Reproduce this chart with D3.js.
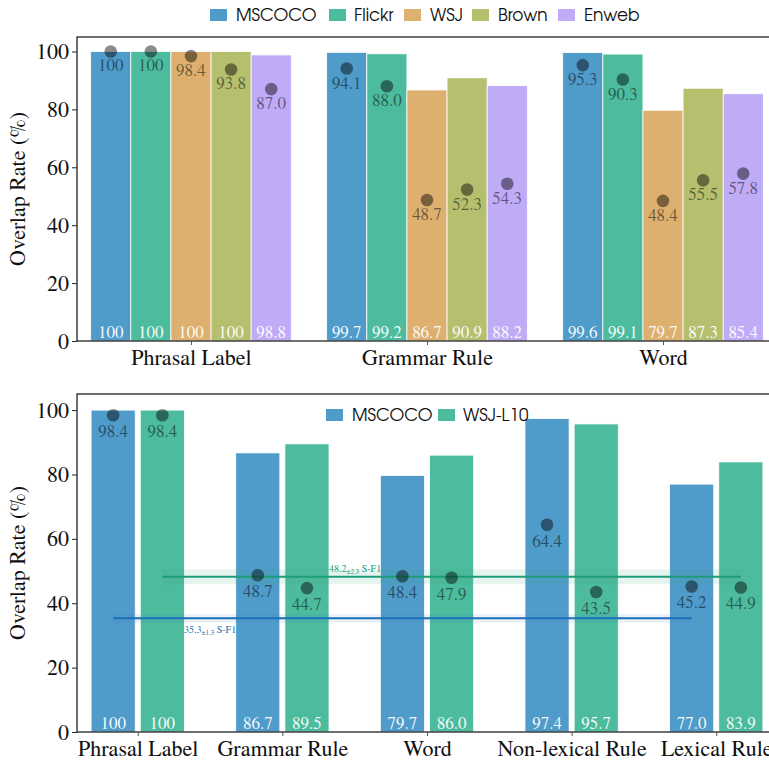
<!DOCTYPE html>
<html>
<head>
<meta charset="utf-8">
<script src="https://cdn.jsdelivr.net/npm/d3@7"></script>
</head>
<body style="margin:0;background:#fff">
<svg id="chart" width="769" height="762" style="display:block"></svg>
<script>
// ---------------- data ----------------
const topCategories = ["Phrasal Label", "Grammar Rule", "Word"];
const topSeries = ["MSCOCO", "Flickr", "WSJ", "Brown", "Enweb"];
const topBars = {
  MSCOCO: [100, 99.7, 99.6],
  Flickr: [100, 99.2, 99.1],
  WSJ:    [100, 86.7, 79.7],
  Brown:  [100, 90.9, 87.3],
  Enweb:  [98.8, 88.2, 85.4]
};
const topDots = {
  MSCOCO: [100, 94.1, 95.3],
  Flickr: [100, 88.0, 90.3],
  WSJ:    [98.4, 48.7, 48.4],
  Brown:  [93.8, 52.3, 55.5],
  Enweb:  [87.0, 54.3, 57.8]
};

const botCategories = ["Phrasal Label", "Grammar Rule", "Word", "Non-lexical Rule", "Lexical Rule"];
const botSeries = ["MSCOCO", "WSJ-L10"];
const botBars = {
  "MSCOCO":  [100, 86.7, 79.7, 97.4, 77.0],
  "WSJ-L10": [100, 89.5, 86.0, 95.7, 83.9]
};
const botDots = {
  "MSCOCO":  [98.4, 48.7, 48.4, 64.4, 45.2],
  "WSJ-L10": [98.4, 44.7, 47.9, 43.5, 44.9]
};
const refSeries = ["WSJ-L10", "MSCOCO"];
const refMeans = [48.2, 35.3];
const refStds = [2.3, 1.3];
const refLabel = "S-F1";

const yTicks = [0, 20, 40, 60, 80, 100];

// ---------------- style ----------------
const colors = {
  "MSCOCO": "#4f9bca",
  "Flickr": "#4dbb9e",
  "WSJ": "#ddb06f",
  "Brown": "#b5bf6e",
  "Enweb": "#bfabf6",
  "WSJ-L10": "#4dbb9e"
};
const refLineColors = { "WSJ-L10": "#1c9c78", "MSCOCO": "#1a6fb8" };
const refBandColors = { "WSJ-L10": "rgba(60,170,130,0.13)", "MSCOCO": "rgba(70,130,200,0.12)" };

const SERIF = "TeX Gyre Termes, Liberation Serif, serif";
const SANS = "TeX Gyre Adventor, Lato, sans-serif";
const fmt = v => (v === 100 ? "100" : v.toFixed(1));

const svg = d3.select("#chart");

function panel(opts) {
  const { top, bottom, categories, series, bars, dots, xDomain, barW, offsets } = opts;
  const left = 77, right = 777;
  const x = d3.scaleLinear().domain(xDomain).range([left, right]);
  const y = d3.scaleLinear().domain([0, 105]).range([bottom, top]);
  const g = svg.append("g");

  // bars
  series.forEach((s, si) => {
    const pw = x(barW) - x(0);
    g.selectAll(null).data(bars[s]).enter().append("rect")
      .attr("x", (d, i) => x(i + offsets[si]) - pw / 2)
      .attr("width", pw)
      .attr("y", d => y(d))
      .attr("height", d => y(0) - y(d))
      .attr("fill", colors[s])
      .attr("stroke", "#fff")
      .attr("stroke-width", 0.8);
  });

  // reference bands & lines (bottom panel)
  if (opts.refs) {
    refSeries.forEach((s, ri) => {
      const x0 = x(0 + opts.refOffsets[s]);
      const x1 = x(categories.length - 1 + opts.refOffsets[s]);
      const m = refMeans[ri], sd = refStds[ri];
      g.append("rect")
        .attr("x", x0).attr("width", x1 - x0)
        .attr("y", y(m + sd)).attr("height", y(m - sd) - y(m + sd))
        .attr("fill", refBandColors[s]);
      g.append("line")
        .attr("x1", x0).attr("x2", x1)
        .attr("y1", y(m)).attr("y2", y(m))
        .attr("stroke", refLineColors[s]).attr("stroke-width", 2);
      const t = g.append("text")
        .style("font-family", SERIF)
        .attr("x", opts.refLabelX[s])
        .attr("y", y(m) + opts.refLabelDy[s])
        .attr("font-size", 10)
        .attr("fill", refLineColors[s]);
      t.append("tspan").text(m.toFixed(1));
      t.append("tspan").attr("font-size", 7).attr("dy", 2).text("\u00b1" + sd.toFixed(1));
      t.append("tspan").attr("dy", -2).text(" " + refLabel);
    });
  }

  // dots and labels
  series.forEach((s, si) => {
    g.selectAll(null).data(dots[s]).enter().append("circle")
      .attr("cx", (d, i) => x(i + offsets[si]))
      .attr("cy", d => y(d))
      .attr("r", 6.3)
      .attr("fill", "#000").attr("fill-opacity", 0.45);
    g.selectAll(null).data(dots[s]).enter().append("text")
      .style("font-family", SERIF)
      .attr("x", (d, i) => x(i + offsets[si]))
      .attr("y", d => y(d) + opts.dotLabelDy)
      .attr("text-anchor", "middle")
      .attr("font-size", opts.labelSize)
      .attr("fill", "#000").attr("fill-opacity", 0.5)
      .text(d => fmt(d));
    g.selectAll(null).data(bars[s]).enter().append("text")
      .style("font-family", SERIF)
      .attr("x", (d, i) => x(i + offsets[si]))
      .attr("y", y(0) - 3.5)
      .attr("text-anchor", "middle")
      .attr("font-size", opts.labelSize)
      .attr("fill", "#fff").attr("fill-opacity", 0.95)
      .text(d => fmt(d));
  });

  // frame
  g.append("rect")
    .attr("x", left).attr("y", top)
    .attr("width", right - left).attr("height", bottom - top)
    .attr("fill", "none").attr("stroke", "#222").attr("stroke-width", 1.3);

  // y axis
  const ya = g.append("g").attr("transform", `translate(${left},0)`)
    .call(d3.axisLeft(y).tickValues(yTicks).tickSize(5).tickPadding(3).tickFormat(d3.format("d")));
  ya.select(".domain").remove();
  ya.selectAll("text").style("font-family", SERIF).attr("font-size", 22).attr("fill", "#111");
  ya.selectAll("line").attr("stroke", "#222");

  // x axis
  const xa = g.append("g").attr("transform", `translate(0,${bottom})`)
    .call(d3.axisBottom(x).tickValues(d3.range(categories.length)).tickSize(4).tickPadding(4)
      .tickFormat(i => categories[i]));
  xa.select(".domain").remove();
  xa.selectAll("text").style("font-family", SERIF).attr("font-size", 22).attr("fill", "#111");
  xa.selectAll("line").attr("stroke", "#555");

  // y label
  g.append("text")
    .style("font-family", SERIF)
    .attr("transform", `translate(25,${(top + bottom) / 2}) rotate(-90)`)
    .attr("text-anchor", "middle")
    .attr("font-size", 22).attr("fill", "#111")
    .text("Overlap Rate (%)");
}

// top panel
panel({
  top: 37, bottom: 341,
  categories: topCategories, series: topSeries, bars: topBars, dots: topDots,
  xDomain: [-0.483, 2.483], barW: 0.17,
  offsets: [-0.34, -0.17, 0, 0.17, 0.34],
  dotLabelDy: 20, labelSize: 17
});

// bottom panel
panel({
  top: 394, bottom: 732,
  categories: botCategories, series: botSeries, bars: botBars, dots: botDots,
  xDomain: [-0.42, 4.42], barW: 0.305,
  offsets: [-0.17, 0.17],
  dotLabelDy: 22, labelSize: 17,
  refs: true,
  refOffsets: { "MSCOCO": -0.17, "WSJ-L10": 0.17 },
  refLabelX: { "WSJ-L10": 329, "MSCOCO": 184 },
  refLabelDy: { "WSJ-L10": -5, "MSCOCO": 15 }
});

// legends
function legend(items, xs, textXs, yTop) {
  const lg = svg.append("g");
  items.forEach((s, i) => {
    lg.append("rect").attr("x", xs[i]).attr("y", yTop).attr("width", 17).attr("height", 12)
      .attr("fill", colors[s]);
    lg.append("text").style("font-family", SANS).attr("x", textXs[i]).attr("y", yTop + 12)
      .attr("font-size", 17).attr("fill", "#111").text(s);
  });
}
legend(topSeries, [210, 329, 404, 472, 558], [236, 354, 430, 498, 584], 9);
legend(botSeries, [326, 438], [352, 463], 409);
</script>
</body>
</html>
